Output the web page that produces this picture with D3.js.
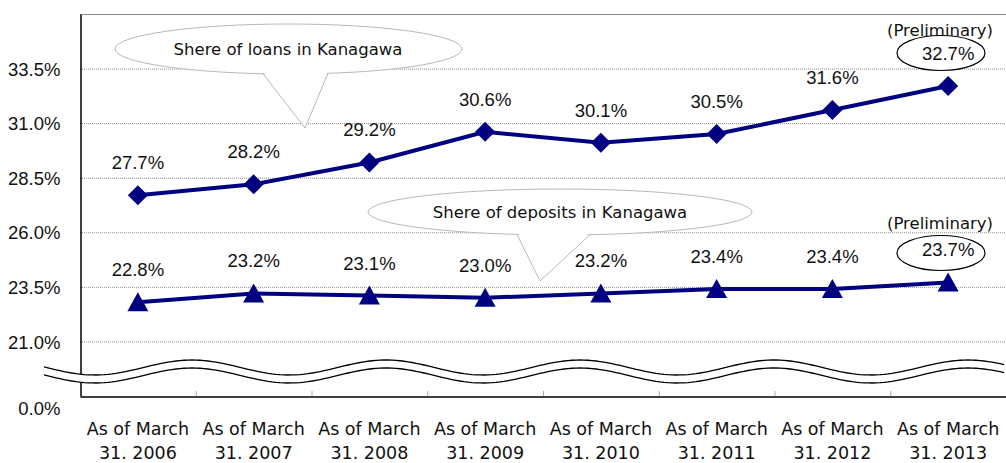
<!DOCTYPE html>
<html lang="en">
<head>
  <meta charset="UTF-8">
  <title>Share of loans and deposits in Kanagawa</title>
  <style>
    body { margin: 0; background: #fff; }
    .num { font-family: "Liberation Sans Narrow", "Liberation Sans", Arial, sans-serif; font-size: 18.5px; fill: #111; }
    .lbl { font-family: "DejaVu Sans", sans-serif; fill: #111; }
  </style>
</head>
<body>
  <svg width="1006" height="463" id="chart"></svg>
  <script src="https://d3js.org/d3.v7.min.js"></script>
  <script>
    const years = ['31. 2006', '31. 2007', '31. 2008', '31. 2009', '31. 2010', '31. 2011', '31. 2012', '31. 2013'];
    const loans = [27.7, 28.2, 29.2, 30.6, 30.1, 30.5, 31.6, 32.7];
    const deposits = [22.8, 23.2, 23.1, 23.0, 23.2, 23.4, 23.4, 23.7];
    // bottom tick stands for 0.0% (broken axis)
    const yTicks = [18.5, 21.0, 23.5, 26.0, 28.5, 31.0, 33.5];
    const yTickLabels = ['0.0%', '21.0%', '23.5%', '26.0%', '28.5%', '31.0%', '33.5%'];

    let svg = d3.select('#chart');
    let plotL = 80, plotR = 1006, plotT = 14, plotB = 396;

    let x = d3.scaleBand().domain(years).range([plotL, plotR]);
    let cx = d => x(d) + x.bandwidth() / 2;
    let y = d3.scaleLinear().domain([18.5, 36.0]).range([plotB, plotT]);

    // grid
    svg.append('g').selectAll('line').data(yTicks.slice(1)).join('line')
        .attr('x1', plotL).attr('x2', plotR)
        .attr('y1', d => y(d) + 0.5).attr('y2', d => y(d) + 0.5)
        .attr('stroke', '#8a8a8a').attr('stroke-dasharray', '1,1');
    svg.append('line').attr('x1', plotL).attr('x2', plotR).attr('y1', plotT + 0.5).attr('y2', plotT + 0.5)
        .attr('stroke', '#8a8a8a');

    // y axis
    let yAxis = svg.append('g').attr('transform', `translate(${plotL + 0.5},0)`)
        .call(d3.axisLeft(y).tickValues(yTicks).tickSize(0).tickPadding(20)
            .tickFormat((d, i) => yTickLabels[i]));
    yAxis.select('.domain').attr('stroke', '#000').attr('stroke-width', 1.5);
    yAxis.attr('font-family', null).attr('font-size', null);
    yAxis.selectAll('text').attr('class', 'num').attr('dy', (d, i) => i === 0 ? '1.0em' : '0.36em');

    // x axis
    let xAxis = svg.append('g').attr('transform', `translate(0,${plotB + 0.5})`)
        .call(d3.axisBottom(x).tickSize(0).tickFormat(''));
    xAxis.select('.domain').attr('stroke', '#000').attr('stroke-width', 1.5);
    svg.append('g').selectAll('line').data(years.slice(1)).join('line')
        .attr('x1', d => x(d) + 0.5).attr('x2', d => x(d) + 0.5)
        .attr('y1', plotB - 5).attr('y2', plotB)
        .attr('stroke', '#aaa');
    let xl = svg.append('g').selectAll('text').data(years).join('text')
        .attr('class', 'lbl').attr('font-size', 17.5)
        .attr('text-anchor', 'middle').attr('x', cx);
    xl.append('tspan').attr('x', cx).attr('y', 435).text('As of March');
    xl.append('tspan').attr('x', cx).attr('y', 459).text(d => d);

    // wavy axis break
    let wave = d3.range(44, 1007, 4).map(px => [px, 367.5 + 7.5 * Math.cos(2 * Math.PI * (px - 95) / 194)]);
    let band = wave.concat(wave.slice().reverse().map(p => [p[0], p[1] + 8]));
    svg.append('path').attr('d', d3.line()(band) + 'Z').attr('fill', '#fff');
    [0, 8].forEach(off => {
      svg.append('path').attr('d', d3.line()(wave.map(p => [p[0], p[1] + off])))
          .attr('fill', 'none').attr('stroke', '#000').attr('stroke-width', 1.3);
    });

    // series
    let lineGen = d3.line().x((d, i) => cx(years[i])).y(d => y(d));
    [loans, deposits].forEach(vals => {
      svg.append('path').datum(vals).attr('d', lineGen)
          .attr('fill', 'none').attr('stroke', '#000080').attr('stroke-width', 4);
    });
    svg.append('g').selectAll('path').data(loans).join('path')
        .attr('transform', (d, i) => `translate(${cx(years[i])},${y(d)})`)
        .attr('d', 'M0,-10L10,0L0,10L-10,0Z').attr('fill', '#000080');
    svg.append('g').selectAll('path').data(deposits).join('path')
        .attr('transform', (d, i) => `translate(${cx(years[i])},${y(d)})`)
        .attr('d', 'M0,-10L10.5,9L-10.5,9Z').attr('fill', '#000080');

    // callouts
    function callout(ex, ey, rx, ry, b1, b2, tip, text, tx) {
      let g = svg.append('g');
      g.append('ellipse').attr('cx', ex).attr('cy', ey).attr('rx', rx).attr('ry', ry)
          .attr('fill', '#fff').attr('stroke', '#b8b8b8');
      let by = bx => ey + ry * Math.sqrt(1 - Math.pow((bx - ex) / rx, 2));
      g.append('path').attr('d', `M${b1},${by(b1) - 3}L${tip[0]},${tip[1]}L${b2},${by(b2) - 3}Z`)
          .attr('fill', '#fff');
      g.append('path').attr('d', `M${b1},${by(b1)}L${tip[0]},${tip[1]}L${b2},${by(b2)}`)
          .attr('fill', 'none').attr('stroke', '#b8b8b8');
      g.append('text').attr('class', 'lbl').attr('font-size', 16.5).attr('text-anchor', 'middle')
          .attr('x', tx).attr('y', ey + 6).text(text);
    }
    callout(288.5, 49, 173.5, 25, 263, 328, [305, 128], 'Shere of loans in Kanagawa', 288);
    callout(560, 212, 192, 23, 517, 590, [540, 281], 'Shere of deposits in Kanagawa', 560);

    // preliminary marks
    [[53, 36], [253, 229]].forEach(p => {
      svg.append('ellipse').attr('cx', 941).attr('cy', p[0]).attr('rx', 44).attr('ry', 17.5)
          .attr('fill', '#fff').attr('stroke', '#000').attr('stroke-width', 1.2);
      svg.append('text').attr('class', 'lbl').attr('font-size', 16.5).attr('text-anchor', 'middle')
          .attr('x', 940).attr('y', p[1]).text('(Preliminary)');
    });

    // value labels
    [loans, deposits].forEach(vals => {
      svg.append('g').selectAll('text').data(vals).join('text')
          .attr('class', 'num').attr('text-anchor', 'middle')
          .attr('x', (d, i) => cx(years[i]))
          .attr('y', d => y(d) - 26)
          .text(d => d.toFixed(1) + '%');
    });
  </script>
</body>
</html>
